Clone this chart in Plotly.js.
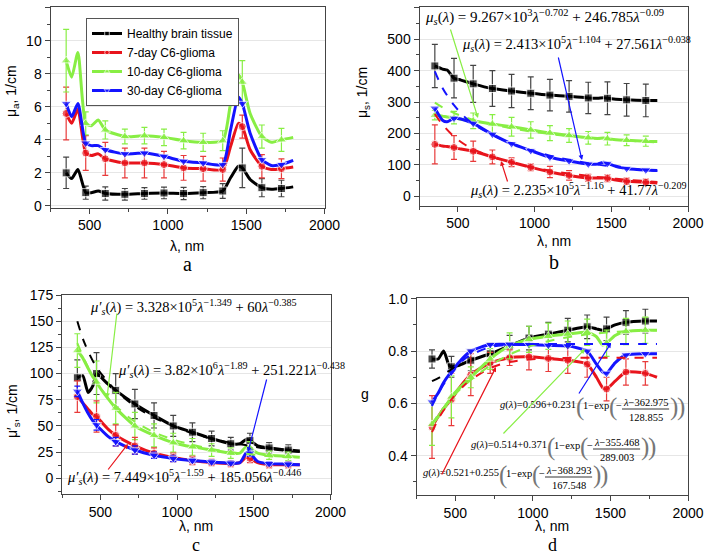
<!DOCTYPE html>
<html><head><meta charset="utf-8">
<script src="https://cdn.plot.ly/plotly-3.0.1.min.js"></script>
<style>html,body{margin:0;padding:0;background:#fff}#chart{width:706px;height:555px}</style>
</head><body><div id="chart"></div>
<script>
// ---------------- data ----------------
const seriesNames = ['Healthy brain tissue', '7-day C6-glioma', '10-day C6-glioma', '30-day C6-glioma'];
const markerLam = [350, 475, 600, 725, 850, 975, 1100, 1225, 1350, 1475, 1600, 1725];

// panel a: absorption coefficient, 1/cm
const lamA = [350, 385, 425, 475, 510, 555, 600, 725, 850, 975, 1100, 1225, 1350, 1400, 1450, 1475, 1525, 1600, 1660, 1725, 1800];
const muaHealthy = [2.0, 1.65, 2.2, 0.8, 0.8, 0.9, 0.75, 0.7, 0.75, 0.78, 0.75, 0.8, 0.9, 1.7, 2.4, 2.3, 1.6, 1.1, 1.0, 1.05, 1.15];
const mua7d = [5.6, 5.0, 5.85, 3.2, 3.05, 3.15, 2.85, 2.6, 2.6, 2.5, 2.3, 2.25, 2.2, 3.6, 5.0, 4.8, 3.4, 2.4, 2.2, 2.25, 2.35];
const mua10d = [8.8, 7.8, 9.3, 5.0, 4.85, 5.2, 4.6, 4.2, 4.25, 4.15, 3.95, 3.85, 3.95, 6.2, 7.95, 7.5, 5.6, 4.2, 3.85, 4.0, 4.15];
const mua30d = [6.2, 5.4, 6.2, 3.8, 3.65, 3.65, 3.4, 3.15, 3.2, 3.0, 2.7, 2.6, 2.5, 4.6, 6.6, 6.2, 4.4, 2.8, 2.45, 2.5, 2.75];
const errAHealthy = [0.95, 0.4, 0.4, 0.35, 0.35, 0.35, 0.37, 0.37, 0.45, 1.2, 0.55, 0.5];
const errA7d = [1.6, 1.05, 1.0, 0.9, 0.9, 0.8, 0.75, 0.75, 0.7, 0.7, 0.7, 0.6];
const errA10d = [1.9, 0.7, 0.55, 0.45, 0.5, 0.5, 0.5, 0.55, 0.6, 1.3, 0.7, 0.7];

// panel b: scattering coefficient, 1/cm
const lamB = [350, 400, 430, 475, 520, 600, 725, 850, 975, 1100, 1225, 1350, 1410, 1450, 1475, 1530, 1600, 1725, 1800];
const musHealthy = [415, 405, 402, 376, 370, 358, 343, 335, 328, 322, 318, 313, 312, 314, 312, 309, 307, 305, 305];
const mus7d = [165, 160, 158, 155, 150, 143, 125, 108, 92, 77, 66, 58, 58, 58, 57, 51, 47, 44, 42];
const mus10d = [258, 255, 252, 250, 245, 240, 230, 221, 211, 201, 193, 186, 184, 185, 183, 180, 178, 175, 174];
const mus30d = [280, 242, 237, 248, 246, 232, 197, 167, 145, 124, 112, 102, 102, 108, 104, 95, 88, 83, 82];
const errBHealthy = [69, 63, 59, 57, 53, 52, 50, 50, 50, 52, 52, 52];
const errB7d = [62, 38, 32, 22, 14, 11, 18, 15, 11, 11, 10, 10];
const errB10d = [15, 20, 25, 30, 30, 26, 24, 22, 20, 20, 17, 16];
const lamFitB = [350, 400, 475, 550, 600, 725, 850, 975, 1100, 1225, 1350, 1475, 1600, 1725, 1800];
const fitB7d = [262, 228, 190, 163, 150, 125, 107, 93, 81, 72, 64, 58, 52, 48, 45];
const fitB10d = [298, 283, 265, 251, 243, 228, 216, 206, 198, 191, 186, 181, 177, 173, 171];
const fitB30d = [398, 345, 290, 250, 230, 195, 168, 146, 129, 116, 105, 96, 89, 83, 80];

// panel c: reduced scattering coefficient, 1/cm
const lamC = [350, 385, 420, 450, 475, 500, 550, 600, 725, 850, 975, 1100, 1225, 1350, 1410, 1450, 1475, 1525, 1600, 1725, 1800];
const musrHealthy = [96, 98, 82, 88, 100, 97, 90, 84, 71, 60, 50, 44, 38, 33, 33, 37, 36, 31, 29, 27, 26];
const musr7d = [78, 72, 66, 61, 59, 55, 47, 41, 31, 24, 20, 17, 15, 14, 15, 20, 19, 15, 13, 13, 13];
const musr10d = [122, 115, 105, 97, 92, 86, 76, 67, 50, 41, 34, 30, 27, 24, 24, 30, 29, 24, 22, 21, 20];
const musr30d = [83, 72, 62, 55, 51, 47, 40, 35, 27, 22, 19, 17, 15.5, 14.5, 15, 24, 24, 16, 14, 13.5, 13];
const errCHealthy = [17, 20, 16, 14, 12, 10, 9, 7, 6, 7, 5, 5];
const errC7d = [15, 15, 10, 8, 5, 4, 4, 3, 3, 4, 3, 3];
const errC10d = [16, 20, 15, 13, 11, 9, 8, 6, 5, 6, 4, 4];
const errC30d = [5, 5, 4, 4, 3, 3, 2, 2, 2, 3, 2, 2];
const lamFitC = [350, 400, 475, 550, 600, 725, 850, 975, 1100, 1225, 1350, 1475, 1600, 1725, 1800];
const fitCHealthy = [150, 128, 106, 92, 84, 69, 58, 50, 43, 38, 34, 31, 28, 26, 25];
const fitC10d = [129, 112, 92, 77, 69, 54, 44, 37, 32, 28, 25, 23, 21, 20, 19];

// panel d: anisotropy factor g
const lamD = [350, 390, 425, 460, 475, 520, 600, 725, 850, 975, 1100, 1225, 1350, 1410, 1450, 1475, 1530, 1600, 1725, 1800];
const gHealthy = [0.77, 0.77, 0.80, 0.745, 0.74, 0.745, 0.765, 0.79, 0.82, 0.85, 0.865, 0.88, 0.893, 0.885, 0.88, 0.885, 0.90, 0.91, 0.915, 0.915];
const g7d = [0.51, 0.55, 0.58, 0.605, 0.615, 0.655, 0.71, 0.755, 0.775, 0.778, 0.772, 0.765, 0.75, 0.70, 0.66, 0.655, 0.685, 0.72, 0.715, 0.70];
const g10d = [0.52, 0.55, 0.58, 0.61, 0.625, 0.655, 0.70, 0.77, 0.82, 0.845, 0.857, 0.865, 0.872, 0.855, 0.823, 0.83, 0.86, 0.875, 0.88, 0.88];
const g30d = [0.605, 0.64, 0.68, 0.71, 0.72, 0.755, 0.80, 0.825, 0.826, 0.825, 0.822, 0.82, 0.80, 0.75, 0.72, 0.715, 0.755, 0.785, 0.79, 0.79];
const errDHealthy = [0.035, 0.04, 0.04, 0.04, 0.04, 0.045, 0.045, 0.045, 0.045, 0.045, 0.045, 0.045];
const errD7d = [0.12, 0.1, 0.08, 0.04, 0.03, 0.05, 0.05, 0.05, 0.05, 0.045, 0.05, 0.045];
const errD10d = [0.08, 0.08, 0.04, 0.04, 0.05, 0.05, 0.05, 0.05, 0.05, 0.05, 0.05, 0.05];
const lamFitD = [350, 400, 475, 550, 600, 725, 850, 975, 1100, 1225, 1350, 1475, 1600, 1725, 1800];
const fitD7d = [0.49, 0.55, 0.615, 0.665, 0.69, 0.735, 0.758, 0.768, 0.772, 0.774, 0.775, 0.775, 0.775, 0.775, 0.775];
const fitD10d = [0.52, 0.565, 0.62, 0.665, 0.69, 0.745, 0.787, 0.817, 0.838, 0.853, 0.864, 0.871, 0.876, 0.879, 0.88];
const fitD30d = [0.59, 0.65, 0.715, 0.765, 0.785, 0.815, 0.824, 0.827, 0.827, 0.827, 0.827, 0.827, 0.827, 0.827, 0.827];
const lamFitDHealthy = [350, 400, 475, 550];
const fitDHealthy = [0.685, 0.70, 0.73, 0.755];

// ---------------- styles ----------------
const COL = ['#000000', '#e8141c', '#88ee44', '#1414ff'];
const ERRCOL = ['#444444', '#e83a3a', '#88ee44', '#1414ff'];
const SYM = ['square', 'circle', 'triangle-up', 'triangle-down'];
const MS = [8, 8, 9, 9];
const SANS = 'Liberation Sans, Arial, sans-serif';
const SERIF = 'Liberation Serif, Times New Roman, serif';
const W = 706, H = 555;
const px = x => x / W, py = y => 1 - y / H;

function series(lam, vals, errs, i, ax, showlegend) {
  const size = lam.map(l => markerLam.includes(l) ? MS[i] : 0);
  const err = lam.map(l => { const k = markerLam.indexOf(l); return (errs && k >= 0) ? errs[k] : NaN; });
  return {
    type: 'scatter', mode: 'lines+markers', x: lam, y: vals, xaxis: 'x' + ax, yaxis: 'y' + ax,
    name: seriesNames[i], showlegend: showlegend, legendgroup: 's' + i,
    line: {color: COL[i], width: 3, shape: 'spline', smoothing: 0.6},
    marker: {symbol: SYM[i], size: size, color: COL[i]},
    error_y: errs ? {type: 'data', array: err, visible: true, color: ERRCOL[i], thickness: 1.2, width: 3} : {visible: false}
  };
}
function fit(lam, vals, i, ax) {
  return {type: 'scatter', mode: 'lines', x: lam, y: vals, xaxis: 'x' + ax, yaxis: 'y' + ax, showlegend: false,
    hoverinfo: 'skip', line: {color: COL[i], width: 2, dash: 'dash', shape: 'spline'}};
}

const ax = (x0, x1) => [px(x0), px(x1)];
const ay = (yTop, yBot) => [py(yBot), py(yTop)];

const data = [
  series(lamA, muaHealthy, errAHealthy, 0, '', true),
  series(lamA, mua7d, errA7d, 1, '', true),
  series(lamA, mua10d, errA10d, 2, '', true),
  series(lamA, mua30d, null, 3, '', true),

  series(lamB, musHealthy, errBHealthy, 0, '2', false),
  series(lamB, mus10d, errB10d, 2, '2', false),
  series(lamB, mus7d, errB7d, 1, '2', false),
  series(lamB, mus30d, null, 3, '2', false),
  fit(lamFitB, fitB10d, 2, '2'),
  fit(lamFitB, fitB7d, 1, '2'),
  fit(lamFitB, fitB30d, 3, '2'),

  series(lamC, musrHealthy, errCHealthy, 0, '3', false),
  series(lamC, musr10d, errC10d, 2, '3', false),
  series(lamC, musr7d, errC7d, 1, '3', false),
  series(lamC, musr30d, errC30d, 3, '3', false),
  fit(lamFitC, fitCHealthy, 0, '3'),
  fit(lamFitC, fitC10d, 2, '3'),

  series(lamD, gHealthy, errDHealthy, 0, '4', false),
  series(lamD, g7d, errD7d, 1, '4', false),
  series(lamD, g10d, errD10d, 2, '4', false),
  series(lamD, g30d, null, 3, '4', false),
  fit(lamFitDHealthy, fitDHealthy, 0, '4'),
  fit(lamFitD, fitD7d, 1, '4'),
  fit(lamFitD, fitD10d, 2, '4'),
  fit(lamFitD, fitD30d, 3, '4')
];

const AXC = '#444';
function xAxis(dom, anchor) {
  return {domain: dom, anchor: anchor, range: [250, 2000], tick0: 0, dtick: 500, ticks: 'outside', ticklen: 5,
    tickwidth: 1, tickcolor: AXC, showline: true, linecolor: AXC, linewidth: 1, mirror: true, showgrid: false,
    zeroline: false, tickfont: {family: SANS, size: 14, color: '#000'},
    minor: {ticks: 'outside', dtick: 250, tick0: 0, ticklen: 3, tickcolor: AXC, showgrid: false}};
}
function yAxis(dom, anchor, range, dtick, fmt) {
  return {domain: dom, anchor: anchor, range: range, tick0: 0, dtick: dtick, ticks: 'outside', ticklen: 5,
    tickwidth: 1, tickcolor: AXC, showline: true, linecolor: AXC, linewidth: 1, mirror: true, showgrid: true,
    gridcolor: '#e6e6e6', gridwidth: 1, zeroline: false, tickformat: fmt || '',
    tickfont: {family: SANS, size: 14, color: '#000'},
    minor: {ticks: 'outside', dtick: dtick / 2, tick0: 0, ticklen: 3, tickcolor: AXC, showgrid: false}};
}

// ---------- annotations ----------
const annotations = [];
const shapes = [];
function txt(x, y, text, o) {
  const a = Object.assign({xref: 'paper', yref: 'paper', x: px(x), y: py(y), text: text, showarrow: false,
    xanchor: 'center', yanchor: 'middle', borderpad: 0, borderwidth: 0,
    font: {family: SANS, size: 14, color: '#000'}}, o || {});
  annotations.push(a);
  return a;
}
function arrow(x0, y0, x1, y1, color) {
  annotations.push({xref: 'paper', yref: 'paper', x: px(x1), y: py(y1), ax: x0 - x1, ay: y0 - y1,
    axref: 'pixel', ayref: 'pixel', text: '', showarrow: true, arrowhead: 2, arrowsize: 0.8,
    arrowwidth: 1.2, arrowcolor: color, standoff: 0, startstandoff: 0});
}

// axis titles and panel letters
txt(12, 91, 'μ<sub>a</sub>, 1/cm', {textangle: -90});
txt(363, 93, 'μ<sub>s</sub>, 1/cm', {textangle: -90});
txt(13, 411, 'μ′<sub>s</sub>, 1/cm', {textangle: -90});
txt(365, 394, 'g');
txt(187, 246, 'λ, nm');
txt(554, 241, 'λ, nm');
txt(196, 526, 'λ, nm');
txt(552, 526, 'λ, nm');
const LET = {family: SERIF, size: 20, color: '#000'};
const LET2 = {family: SERIF, size: 18, color: '#000'};
txt(187, 264, 'a', {font: LET});
txt(554, 262, 'b', {font: LET});
txt(196, 555, 'c', {font: LET2, yanchor: 'bottom'});
txt(552, 555, 'd', {font: LET2, yanchor: 'bottom'});

// panel b equations
const EQ1 = {family: SERIF, size: 15, color: '#000'};
const EQ = {family: SERIF, size: 14.5, color: '#000'};
txt(425, 17, '<i>μ<sub>s</sub></i>(<i>λ</i>) = 9.267×10<sup>3</sup><i>λ</i><sup>−0.702</sup> + 246.785<i>λ</i><sup>−0.09</sup>', {xanchor: 'left', font: EQ1});
txt(462, 44, '<i>μ<sub>s</sub></i>(<i>λ</i>) = 2.413×10<sup>5</sup><i>λ</i><sup>−1.104</sup> + 27.561<i>λ</i><sup>−0.038</sup>', {xanchor: 'left', font: EQ});
txt(470, 190, '<i>μ<sub>s</sub></i>(<i>λ</i>) = 2.235×10<sup>5</sup><i>λ</i><sup>−1.16</sup> + 41.77<i>λ</i><sup>−0.209</sup>', {xanchor: 'left', font: EQ});
arrow(450, 28, 478, 118, COL[2]);
arrow(558, 56, 582, 160, COL[3]);
arrow(508, 183, 501, 161, COL[1]);

// panel c equations
txt(90, 307, '<i>μ′<sub>s</sub></i>(<i>λ</i>) = 3.328×10<sup>5</sup><i>λ</i><sup>−1.349</sup> + 60<i>λ</i><sup>−0.385</sup>', {xanchor: 'left', font: EQ});
txt(118, 370, '<i>μ′<sub>s</sub></i>(<i>λ</i>) = 3.82×10<sup>6</sup><i>λ</i><sup>−1.89</sup> + 251.221<i>λ</i><sup>−0.438</sup>', {xanchor: 'left', font: EQ});
txt(67, 477, '<i>μ′<sub>s</sub></i>(<i>λ</i>) = 7.449×10<sup>5</sup><i>λ</i><sup>−1.59</sup> + 185.056<i>λ</i><sup>−0.446</sup>', {xanchor: 'left', font: EQ});
arrow(117, 312, 107, 398, COL[2]);
arrow(267, 378, 248, 452, COL[3]);
arrow(107, 471, 128, 444, COL[1]);

// panel d equations with built-up fractions
const cv = document.createElement('canvas').getContext('2d');
function measure(t, size) {
  cv.font = size + 'px "Liberation Serif"';
  return cv.measureText(t.replace(/<[^>]+>/g, '')).width;
}
function gEq(x0, yc, a0, a1, c0, c1) {
  const fs = 10.5, bf = 25;
  const f = {family: SERIF, size: fs, color: '#000'};
  const bfnt = {family: SERIF, size: bf, color: '#777'};
  let cx = x0;
  const put = (t, font, dy, k) => { txt(cx, yc + dy, t, {xanchor: 'left', font: font}); cx += measure(t, font.size) * k; };
  put('<i>g</i>(<i>λ</i>)=' + a0 + '+' + a1, f, -4, 1);
  put('(', bfnt, -2, 0.8);
  put('1−exp', f, -4, 1);
  put('(', bfnt, -2, 0.8);
  put('−', f, -4, 1);
  const num = '<i>λ</i>−' + c0, den = c1;
  const w = Math.max(measure(num, fs), measure(den, fs)) + 2;
  txt(cx + w / 2, yc - 7, num, {font: f});
  txt(cx + w / 2, yc + 8, den, {font: f});
  shapes.push({type: 'line', xref: 'paper', yref: 'paper', x0: px(cx), x1: px(cx + w), y0: py(yc), y1: py(yc),
    line: {color: '#000', width: 0.8}});
  cx += w + 1;
  put(')', bfnt, -2, 0.8);
  put(')', bfnt, -2, 0.8);
}
gEq(500, 409, '0.596', '0.231', '362.975', '128.855');
gEq(471, 449, '0.514', '0.371', '355.468', '289.003');
gEq(423, 477, '0.521', '0.255', '368.293', '167.548');
arrow(578, 395, 611, 343, COL[3]);
arrow(502, 435, 585, 349, COL[2]);
arrow(441, 476, 496, 367, COL[1]);

const layout = {
  width: W, height: H, margin: {l: 0, r: 0, t: 0, b: 0},
  paper_bgcolor: '#fff', plot_bgcolor: '#fff', showlegend: true,
  xaxis: xAxis(ax(50.5, 324.5), 'y'),
  yaxis: yAxis(ay(7, 207.5), 'x', [-0.1, 12.05], 2),
  xaxis2: xAxis(ax(419.5, 688), 'y2'),
  yaxis2: yAxis(ay(7, 205.5), 'x2', [-30, 603], 100),
  xaxis3: xAxis(ax(62, 330.5), 'y3'),
  yaxis3: yAxis(ay(294.5, 494), 'x3', [-15, 175.5], 25),
  xaxis4: xAxis(ax(416.5, 688), 'y4'),
  yaxis4: yAxis(ay(298, 495), 'x4', [0.25, 1.003], 0.2, '.1f'),
  legend: {x: px(86), y: py(18), xanchor: 'left', yanchor: 'top', bgcolor: '#fff', bordercolor: '#555',
    borderwidth: 1, font: {family: SANS, size: 12, color: '#000'}, tracegroupgap: 0, itemwidth: 30},
  annotations: annotations, shapes: shapes
};
Plotly.newPlot('chart', data, layout, {displayModeBar: false, staticPlot: true});
</script>
</body></html>
